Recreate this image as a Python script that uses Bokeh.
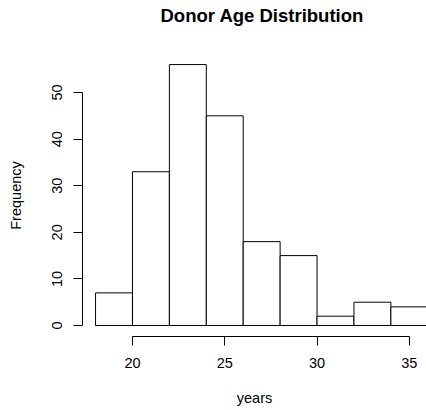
from bokeh.plotting import figure
from bokeh.models import Range1d, FixedTicker, Title
from bokeh.embed import file_html
from bokeh.resources import INLINE

# Data
bin_left = [18, 20, 22, 24, 26, 28, 30, 32, 34]
bin_right = [20, 22, 24, 26, 28, 30, 32, 34, 36]
counts = [7, 33, 56, 45, 18, 15, 2, 5, 4]
x_ticks = [20, 25, 30, 35]
y_ticks = [0, 10, 20, 30, 40, 50]
title_text = "Donor Age Distribution"

FONT = "Liberation Sans"

p = figure(width=426, height=410,
           x_range=Range1d(17.293, 35.93), y_range=Range1d(-2.36, 58.16),
           output_backend="svg", toolbar_location=None,
           min_border_left=82, min_border_right=0,
           min_border_top=54, min_border_bottom=74,
           title=title_text)

p.quad(left=bin_left, right=bin_right, bottom=0, top=counts,
       fill_color="white", line_color="black", line_width=1)

p.title.text_font = FONT
p.title.text_font_size = "18.5px"
p.title.text_font_style = "bold"
p.title.text_color = "black"
p.title.align = "left"
p.title.offset = 78
p.title.standoff = 0

# blank spacer between title and plot frame
p.add_layout(Title(text=" ", text_font_size="1px", standoff=26), "above")

p.outline_line_color = None
p.grid.visible = False
p.background_fill_color = "white"
p.border_fill_color = "white"

for ax in (p.xaxis[0], p.yaxis[0]):
    ax.axis_line_color = "black"
    ax.major_tick_line_color = "black"
    ax.minor_tick_line_color = None
    ax.major_tick_in = 0
    ax.major_tick_out = 9
    ax.major_label_text_font = FONT
    ax.major_label_text_font_size = "14.5px"
    ax.major_label_text_color = "black"
    ax.axis_label_text_font = FONT
    ax.axis_label_text_font_size = "14.5px"
    ax.axis_label_text_font_style = "normal"
    ax.axis_label_text_color = "black"

p.xaxis.ticker = FixedTicker(ticks=x_ticks)
p.xaxis.bounds = (x_ticks[0], x_ticks[-1])
p.xaxis.axis_label = "years"
p.xaxis.major_label_standoff = 12
p.xaxis.axis_label_standoff = 19

p.yaxis.ticker = FixedTicker(ticks=y_ticks)
p.yaxis.bounds = (y_ticks[0], y_ticks[-1])
p.yaxis.axis_label = "Frequency"
p.yaxis.major_label_orientation = "vertical"
p.yaxis.major_label_standoff = 11
p.yaxis.axis_label_standoff = 26

open("out.html", "w").write(file_html(p, INLINE))
